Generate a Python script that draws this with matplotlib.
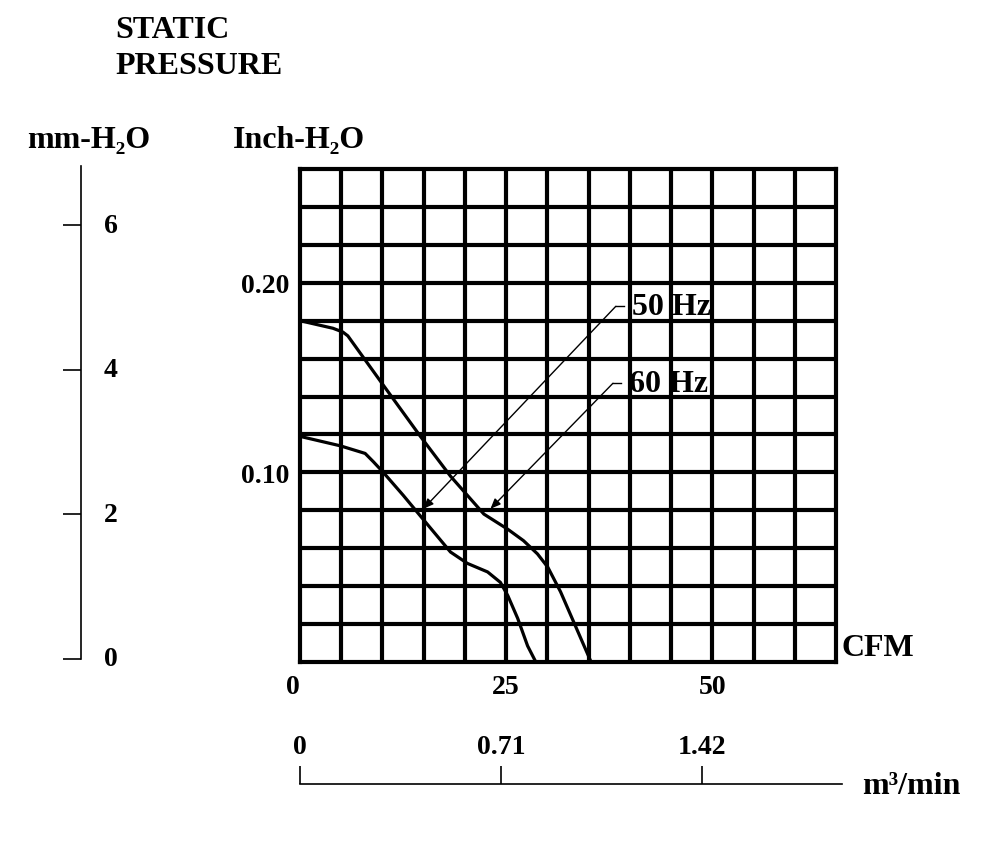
import matplotlib
matplotlib.use("Agg")
import matplotlib.pyplot as plt
import matplotlib.transforms as mtrans
import numpy as np

# ---- data ----
cfm_60 = [0, 4.0, 5.2, 5.8, 10.1, 14.6, 18.25, 22.3, 25.2, 27.1, 28.8, 30.05, 31.6, 33.2, 35.3]
p_60 = [0.180, 0.176, 0.174, 0.172, 0.146, 0.119, 0.098, 0.078, 0.070, 0.064, 0.057, 0.050, 0.037, 0.021, 0.0]
cfm_50 = [0, 4.9, 7.9, 8.9, 10.1, 12.5, 14.6, 18.25, 20.3, 22.75, 24.3, 25.2, 26.4, 27.6, 28.6]
p_50 = [0.119, 0.114, 0.110, 0.1056, 0.100, 0.088, 0.077, 0.058, 0.052, 0.0475, 0.042, 0.035, 0.023, 0.0085, 0.0]
cfm_ticks = [0, 25, 50]
inch_ticks = [0.10, 0.20]
inch_tick_labels = ["0.10", "0.20"]
mm_ticks = [0, 2, 4, 6]
m3_ticks = [0, 0.71, 1.42]
m3_tick_labels = ["0", "0.71", "1.42"]
labels = ["50 Hz", "60 Hz"]
arrow_tips = [(14.96, 0.0808), (23.1, 0.0808)]
arrow_elbows = [(38.3, 0.1876), (37.95, 0.147)]

FONT = "Liberation Serif"
FS = 23      # words
FN = 20      # numbers
W, H = 1000, 862

def fx(px):
    return px / W

def fy(py):
    return 1 - py / H

fig = plt.figure(figsize=(10, 8.62), dpi=100)

# main grid axes
ax = fig.add_axes([fx(300), fy(663), fx(836) - fx(300), fy(170) - fy(663)])
ax.set_xlim(0, 65)
ax.set_ylim(0, 0.26)
for xv in np.arange(5, 65, 5):
    ax.axvline(xv, color="black", linewidth=3.0, zorder=1)
for yv in np.arange(1, 13) * 0.02:
    ax.axhline(yv, color="black", linewidth=3.0, zorder=1)
for s in ax.spines.values():
    s.set_linewidth(3.0)
ax.set_xticks(cfm_ticks)
ax.set_xticklabels([str(t) for t in cfm_ticks], fontfamily=FONT, fontweight="bold", fontsize=FN)
ax.set_yticks(inch_ticks)
ax.set_yticklabels(inch_tick_labels, fontfamily=FONT, fontweight="bold", fontsize=FN)
ax.tick_params(which="both", length=0, pad=8)
ax.tick_params(axis="x", pad=9)
ax.get_xticklabels()[0].set_horizontalalignment("right")

ax.plot(cfm_60, p_60, color="black", linewidth=2.3, solid_joinstyle="round", zorder=3)
ax.plot(cfm_50, p_50, color="black", linewidth=2.3, solid_joinstyle="round", zorder=3)

for lab, tip, elb in zip(labels, arrow_tips, arrow_elbows):
    ax.plot([elb[0], elb[0] + 1.0], [elb[1], elb[1]], color="black", linewidth=1.0, zorder=3)
    ax.annotate("", xy=tip, xytext=elb,
                arrowprops=dict(arrowstyle="-|>,head_length=0.6,head_width=0.25",
                                color="black", linewidth=1.0, shrinkA=0, shrinkB=0), zorder=3)
    ax.text(elb[0] + 2.0, elb[1], lab, fontfamily=FONT, fontweight="bold", fontsize=FS,
            ha="left", va="center", zorder=4)

ax.text(1.01, 0.03, "CFM", transform=ax.transAxes, fontfamily=FONT, fontweight="bold",
        fontsize=FS, ha="left", va="center")

# mm-H2O axis
axm = fig.add_axes([fx(81), fy(660), 0.02, fy(167) - fy(660)])
axm.set_ylim(0, (660 - 167) / 72.3)
axm.set_xlim(0, 1)
for k in ["top", "right", "bottom"]:
    axm.spines[k].set_visible(False)
axm.spines["left"].set_linewidth(1.2)
axm.set_xticks([])
axm.set_yticks(mm_ticks)
axm.set_yticklabels([])
axm.tick_params(axis="y", direction="out", length=13, width=1.2)
trm = mtrans.blended_transform_factory(fig.transFigure, axm.transData)
for t in mm_ticks:
    axm.text(fx(111), t, str(t), transform=trm,
             fontfamily=FONT, fontweight="bold", fontsize=FN, ha="center", va="center")
axm.patch.set_visible(False)

# m3/min axis
axq = fig.add_axes([fx(300), fy(785), fx(842) - fx(300), 0.03])
axq.set_xlim(0, (842 - 300) / 283.0)
axq.set_ylim(0, 1)
for k in ["top", "right", "left"]:
    axq.spines[k].set_visible(False)
axq.spines["bottom"].set_linewidth(1.2)
axq.set_yticks([])
axq.set_xticks(m3_ticks)
axq.set_xticklabels([])
axq.tick_params(axis="x", direction="in", length=13, width=1.2)
axq.patch.set_visible(False)
trq = mtrans.blended_transform_factory(axq.transData, fig.transFigure)
for t, l in zip(m3_ticks, m3_tick_labels):
    axq.text(t, fy(748), l, transform=trq,
             fontfamily=FONT, fontweight="bold", fontsize=FN, ha="center", va="center")

fig.text(fx(862), fy(787), "m³/min", fontfamily=FONT, fontweight="bold", fontsize=FS,
         ha="left", va="center")

# titles
fig.text(fx(115), fy(30), "STATIC", fontfamily=FONT, fontweight="bold", fontsize=FS,
         ha="left", va="center")
fig.text(fx(115), fy(66), "PRESSURE", fontfamily=FONT, fontweight="bold", fontsize=FS,
         ha="left", va="center")
fig.text(fx(27), fy(140), "mm-H₂O", fontfamily=[FONT, "DejaVu Serif"], fontweight="bold",
         fontsize=FS, ha="left", va="center")
fig.text(fx(233), fy(140), "Inch-H₂O", fontfamily=[FONT, "DejaVu Serif"], fontweight="bold",
         fontsize=FS, ha="left", va="center")

fig.savefig("out.png", dpi=100, facecolor="white")
